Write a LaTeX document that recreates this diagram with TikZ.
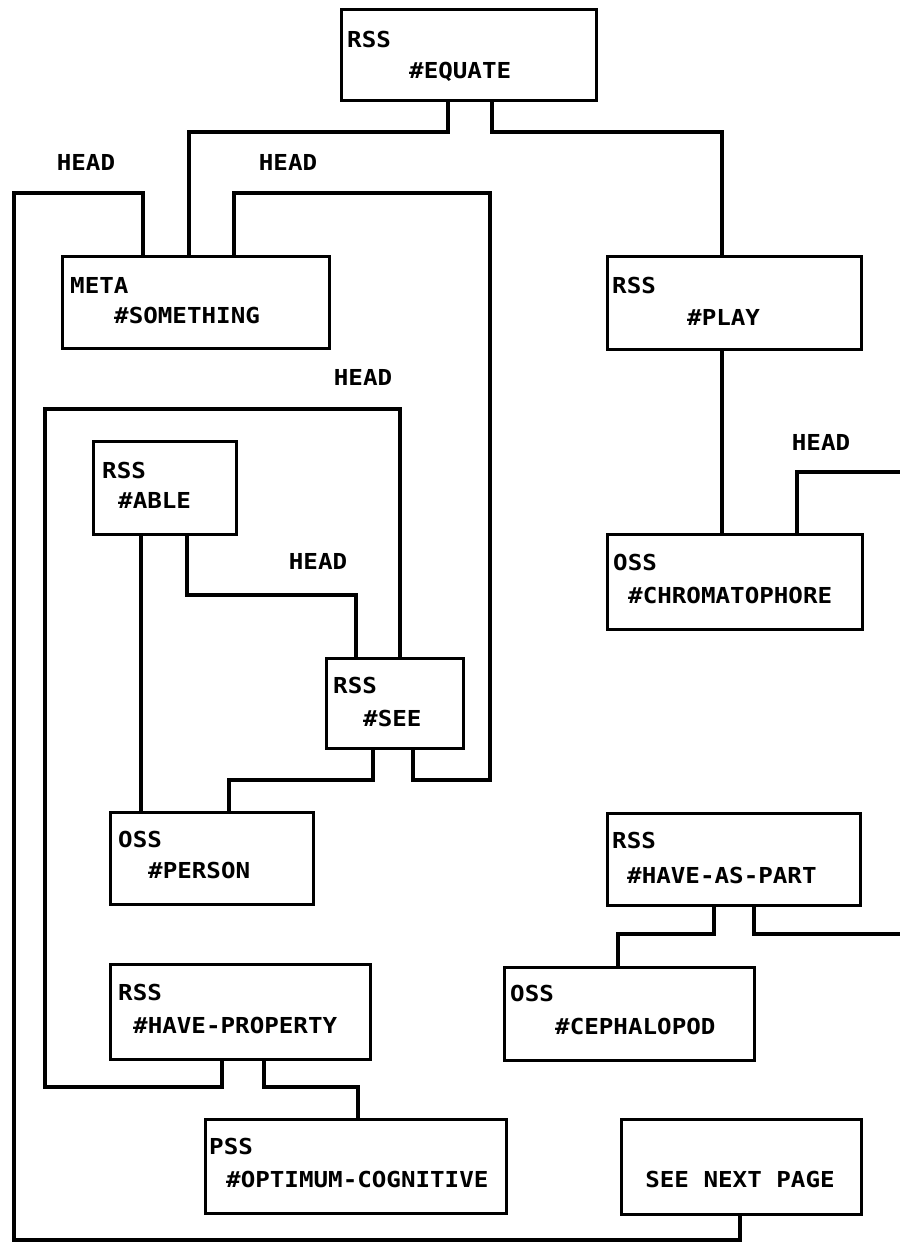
\documentclass[tikz,border=0pt]{standalone}
\usepackage{fontspec}
\newfontfamily\plotfont{DejaVu Sans Mono}[FakeStretch=1.1]
\begin{document}
\begin{tikzpicture}[x=1pt,y=-1pt,
  box/.style={draw, line width=3.2pt, anchor=north west, inner sep=0pt},
  wire/.style={line width=3.4pt, line cap=rect},
  txt/.style={anchor=west, inner sep=0pt, font=\plotfont\bfseries\fontsize{22}{22}\selectfont},
  lbl/.style={inner sep=0pt, font=\plotfont\bfseries\fontsize{22}{22}\selectfont}]
\fill[white] (0,0) rectangle (899,1244);
\useasboundingbox (0,0) rectangle (899,1244);

% boxes
\node[box, minimum width=255pt, minimum height=91pt] (equate) at (340,8) {};
\node[box, minimum width=267pt, minimum height=92pt] (something) at (61,255) {};
\node[box, minimum width=254pt, minimum height=93pt] (play) at (606,255) {};
\node[box, minimum width=255pt, minimum height=95pt] (chrom) at (606,533) {};
\node[box, minimum width=143pt, minimum height=93pt] (able) at (92,440) {};
\node[box, minimum width=137pt, minimum height=90pt] (see) at (325,657) {};
\node[box, minimum width=203pt, minimum height=92pt] (person) at (109,811) {};
\node[box, minimum width=253pt, minimum height=92pt] (hap) at (606,812) {};
\node[box, minimum width=250pt, minimum height=93pt] (ceph) at (503,966) {};
\node[box, minimum width=260pt, minimum height=95pt] (hp) at (109,963) {};
\node[box, minimum width=301pt, minimum height=94pt] (opt) at (204,1118) {};
\node[box, minimum width=240pt, minimum height=95pt] (seenext) at (620,1118) {};

% box texts
\node[txt] (t1a) at (347,39) {RSS};
\node[txt] (t1b) at (409,72) {\#EQUATE};
\node[txt] (t2a) at (70,285) {META};
\node[txt] (t2b) at (114,315) {\#SOMETHING};
\node[txt] (t3a) at (612,285) {RSS};
\node[txt] (t3b) at (687,317) {\#PLAY};
\node[txt] (t4a) at (613,562) {OSS};
\node[txt] (t4b) at (628,595) {\#CHROMATOPHORE};
\node[txt] (t5a) at (102,470) {RSS};
\node[txt] (t5b) at (118,500) {\#ABLE};
\node[txt] (t6a) at (333,685) {RSS};
\node[txt] (t6b) at (363,718) {\#SEE};
\node[txt] (t7a) at (118,839) {OSS};
\node[txt] (t7b) at (148,870) {\#PERSON};
\node[txt] (t8a) at (612,840) {RSS};
\node[txt] (t8b) at (627,875) {\#HAVE-AS-PART};
\node[txt] (t9a) at (510,993) {OSS};
\node[txt] (t9b) at (555,1026) {\#CEPHALOPOD};
\node[txt] (t10a) at (118,992) {RSS};
\node[txt] (t10b) at (133,1025) {\#HAVE-PROPERTY};
\node[txt] (t11a) at (209,1146) {PSS};
\node[txt] (t11b) at (226,1179) {\#OPTIMUM-COGNITIVE};
\node[lbl] (t12) at (740,1179) {SEE NEXT PAGE};

% HEAD labels
\node[lbl] (h1) at (86,162) {HEAD};
\node[lbl] (h2) at (288,162) {HEAD};
\node[lbl] (h3) at (363,377) {HEAD};
\node[lbl] (h4) at (318,561) {HEAD};
\node[lbl] (h5) at (821,442) {HEAD};

% junction coordinates
\coordinate (a1) at (448,132);
\coordinate (a2) at (189,132);
\coordinate (b1) at (492,132);
\coordinate (b2) at (722,132);
\coordinate (c1) at (143,193);
\coordinate (c2) at (14,193);
\coordinate (c3) at (14,1240);
\coordinate (c4) at (740,1240);
\coordinate (d1) at (234,193);
\coordinate (d2) at (490,193);
\coordinate (d3) at (490,780);
\coordinate (d4) at (413,780);
\coordinate (e1) at (400,409);
\coordinate (e2) at (45,409);
\coordinate (e3) at (45,1087);
\coordinate (e4) at (222,1087);
\coordinate (f1) at (141,500);
\coordinate (g1) at (187,595);
\coordinate (g2) at (356,595);
\coordinate (k1) at (373,780);
\coordinate (k2) at (229,780);
\coordinate (m1) at (797,472);
\coordinate (m2) at (899,472);
\coordinate (n1) at (714,934);
\coordinate (n2) at (618,934);
\coordinate (p1) at (754,934);
\coordinate (p2) at (899,934);
\coordinate (q1) at (264,1087);
\coordinate (q2) at (358,1087);

% connectors
\draw[wire] (equate.south -| a1) -- (a1) -- (a2) -- (something.north -| a2);
\draw[wire] (equate.south -| b1) -- (b1) -- (b2) -- (play.north -| b2);
\draw[wire] (play.south -| b2) -- (chrom.north -| b2);
\draw[wire] (something.north -| c1) -- (c1) -- (c2) -- (c3) -- (c4) -- (seenext.south -| c4);
\draw[wire] (something.north -| d1) -- (d1) -- (d2) -- (d3) -- (d4) -- (see.south -| d4);
\draw[wire] (see.north -| e1) -- (e1) -- (e2) -- (e3) -- (e4) -- (hp.south -| e4);
\draw[wire] (able.south -| f1) -- (person.north -| f1);
\draw[wire] (able.south -| g1) -- (g1) -- (g2) -- (see.north -| g2);
\draw[wire] (see.south -| k1) -- (k1) -- (k2) -- (person.north -| k2);
\draw[wire] (chrom.north -| m1) -- (m1) -- (m2);
\draw[wire] (hap.south -| n1) -- (n1) -- (n2) -- (ceph.north -| n2);
\draw[wire] (hap.south -| p1) -- (p1) -- (p2);
\draw[wire] (hp.south -| q1) -- (q1) -- (q2) -- (opt.north -| q2);
\end{tikzpicture}
\end{document}
